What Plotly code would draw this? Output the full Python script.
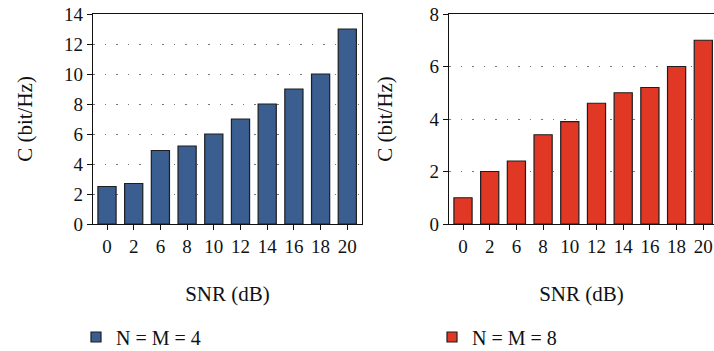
import plotly.graph_objects as go
from plotly.subplots import make_subplots

snr_labels = ["0", "2", "6", "8", "10", "12", "14", "16", "18", "20"]
cap_n4 = [2.5, 2.7, 4.9, 5.2, 6.0, 7.0, 8.0, 9.0, 10.0, 13.0]
cap_n8 = [1.0, 2.0, 2.4, 3.4, 3.9, 4.6, 5.0, 5.2, 6.0, 7.0]
name_n4 = "N = M = 4"
name_n8 = "N = M = 8"

W, H = 714, 351
FONT = "Liberation Serif"
BLUE = "#3a5e90"
RED = "#e13826"
EDGE = "#1e1e1e"

fig = make_subplots(rows=1, cols=2)
xi = list(range(len(snr_labels)))

fig.add_trace(go.Bar(x=xi, y=cap_n4, name=name_n4, showlegend=False,
                     marker=dict(color=BLUE, line=dict(color=EDGE, width=1.2))), row=1, col=1)
fig.add_trace(go.Bar(x=xi, y=cap_n8, name=name_n8, showlegend=False,
                     marker=dict(color=RED, line=dict(color=EDGE, width=1.2))), row=1, col=2)
# legend-only entries (square swatches)
fig.add_trace(go.Scatter(x=[None], y=[None], mode="markers", name=name_n4, legend="legend",
                         marker=dict(symbol="square", size=10, color=BLUE, line=dict(color=EDGE, width=1.2))),
              row=1, col=1)
fig.add_trace(go.Scatter(x=[None], y=[None], mode="markers", name=name_n8, legend="legend2",
                         marker=dict(symbol="square", size=10, color=RED, line=dict(color=EDGE, width=1.2))),
              row=1, col=2)

ydom = [(H - 224) / H, (H - 14) / H]
sp = 26.7
axfont = dict(family=FONT, size=19, color="#111")
titfont = dict(family=FONT, size=21, color="#111")
common_x = dict(tickmode="array", tickvals=xi, ticktext=snr_labels, ticks="outside", ticklen=5,
                tickcolor="#111", showline=True, linecolor="#111", linewidth=1.2, showgrid=False,
                tickfont=axfont, title=dict(text="SNR (dB)", font=titfont, standoff=30),
                mirror=True, zeroline=False)
common_y = dict(ticks="outside", ticklen=5, tickcolor="#111", showline=True, linecolor="#111", linewidth=1.2,
                showgrid=True, gridcolor="#777", griddash="1.5px,10px", gridwidth=1.2, tickfont=axfont,
                zeroline=False)

x1_l, x1_r = 93, 362
x2_l, x2_r = 449, 714
fig.update_xaxes(common_x, domain=[x1_l / W, x1_r / W], range=[-14 / sp, -14 / sp + (x1_r - x1_l) / sp], row=1, col=1)
fig.update_xaxes(common_x, domain=[x2_l / W, x2_r / W], range=[-14 / sp, -14 / sp + (x2_r - x2_l) / sp], row=1, col=2)
fig.update_yaxes(common_y, domain=ydom, range=[0, 14], tickvals=[0, 2, 4, 6, 8, 10, 12, 14], mirror=True,
                 title=dict(text="C (bit/Hz)", font=titfont, standoff=25), row=1, col=1)
fig.update_yaxes(common_y, domain=ydom, range=[0, 8], tickvals=[0, 2, 4, 6, 8], mirror=False,
                 title=dict(text="C (bit/Hz)", font=titfont, standoff=31), row=1, col=2)

legfont = dict(family=FONT, size=20, color="#111")
fig.update_layout(
    width=W, height=H, margin=dict(l=0, r=0, t=0, b=0, autoexpand=False),
    paper_bgcolor="white", plot_bgcolor="white",
    bargap=0.32, showlegend=True,
    legend=dict(x=76 / W, y=(H - 337) / H, xanchor="left", yanchor="middle", font=legfont,
                bgcolor="rgba(0,0,0,0)", itemwidth=30),
    legend2=dict(x=432 / W, y=(H - 337) / H, xanchor="left", yanchor="middle", font=legfont,
                 bgcolor="rgba(0,0,0,0)", itemwidth=30),
)

fig.write_html("out.html")
